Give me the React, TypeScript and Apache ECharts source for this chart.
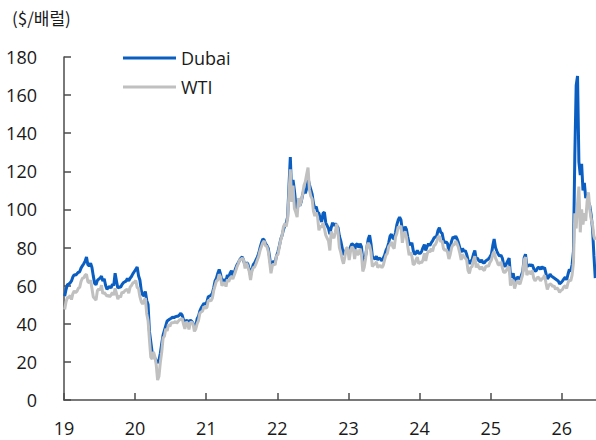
import React, { useEffect, useRef } from "react";
import * as echarts from "echarts";

// Year ticks on the x axis (labelled as two-digit years)
const yearTicks = [2019, 2020, 2021, 2022, 2023, 2024, 2025, 2026];
const yTicks = [0, 20, 40, 60, 80, 100, 120, 140, 160, 180];

// Weekly prices, $/bbl, one array per calendar year
const dubai2019 = [
  54.5, 58.0, 60.5, 60.8, 61.5, 62.5, 64.5, 65.8, 65.5, 66.2, 67.0, 67.3,
  69.2, 70.4, 71.5, 72.8, 75.0, 71.0, 70.3, 71.8, 69.5, 65.0, 61.2, 60.5,
  62.8, 63.4, 64.0, 65.0, 62.4, 63.6, 60.2, 58.1, 59.0, 59.6, 58.8, 60.8,
  60.1, 66.5, 62.5, 58.6, 59.4, 59.1, 60.5, 61.5, 62.0, 62.4, 63.8, 62.5,
  63.9, 64.8, 66.2, 67.3,
];
const wti2019 = [
  47.5, 51.6, 53.8, 53.7, 54.9, 52.7, 55.8, 57.2, 56.4, 57.0, 58.6, 59.1,
  62.2, 63.9, 64.1, 65.5, 66.0, 62.0, 61.5, 62.9, 58.5, 54.0, 53.2, 52.4,
  57.4, 58.3, 57.7, 60.2, 55.8, 56.4, 55.5, 54.5, 55.0, 54.2, 55.1, 56.5,
  55.0, 58.6, 56.0, 52.9, 54.7, 53.9, 56.6, 56.2, 57.2, 57.8, 58.1, 56.0,
  59.2, 60.1, 61.4, 61.7,
];

const dubai2020 = [
  68.5, 69.8, 65.2, 63.0, 57.5, 55.2, 54.6, 57.0, 52.3, 50.1, 36.0, 30.5,
  25.0, 23.5, 22.0, 20.5, 19.5, 21.0, 24.5, 29.5, 34.0, 36.5, 39.0, 41.5,
  42.0, 42.5, 42.9, 43.5, 43.2, 43.7, 43.9, 44.0, 44.6, 45.5, 44.5, 42.0,
  40.5, 41.8, 41.5, 41.2, 41.8, 41.3, 40.2, 38.5, 38.8, 42.6, 43.9, 46.8,
  48.4, 49.6, 50.7, 50.2,
];
const wti2020 = [
  62.7, 59.0, 58.5, 54.2, 51.6, 50.3, 52.0, 53.4, 45.3, 41.6, 31.7, 22.5,
  21.5, 25.3, 22.8, 18.3, 10.5, 12.5, 19.8, 25.0, 32.5, 33.5, 37.4, 36.3,
  39.8, 38.5, 40.6, 40.5, 40.6, 41.3, 40.3, 41.2, 42.0, 42.3, 42.9, 39.8,
  37.3, 41.1, 40.2, 37.0, 40.6, 40.9, 39.9, 36.0, 37.3, 40.1, 41.7, 45.5,
  46.3, 46.6, 49.1, 48.2,
];

const dubai2021 = [
  51.5, 54.2, 54.6, 55.0, 56.0, 59.0, 62.5, 64.0, 66.5, 68.5, 66.0, 62.5,
  63.0, 63.0, 62.5, 65.5, 64.5, 66.5, 67.8, 65.5, 66.8, 69.0, 70.8, 72.0,
  73.5, 74.5, 75.0, 73.0, 70.5, 72.0, 71.5, 68.5, 65.5, 68.5, 71.0, 72.0,
  73.5, 75.0, 77.0, 80.0, 82.5, 84.5, 84.0, 82.0, 81.0, 79.5, 75.0, 69.5,
  71.5, 73.0, 72.0, 75.5,
];
const wti2021 = [
  48.5, 52.2, 52.3, 52.1, 53.5, 57.5, 60.0, 62.5, 63.0, 66.0, 64.5, 60.0,
  60.9, 61.5, 59.5, 63.2, 62.0, 64.0, 64.9, 63.5, 65.5, 67.5, 69.8, 71.5,
  73.5, 73.8, 74.5, 73.2, 69.0, 72.0, 70.0, 67.5, 63.0, 67.5, 69.5, 69.8,
  71.5, 73.5, 75.5, 78.5, 80.5, 82.5, 83.5, 81.0, 80.5, 78.0, 72.5, 66.5,
  70.5, 71.5, 70.8, 75.5,
];

const dubai2022 = [
  78.0, 81.0, 84.5, 86.5, 89.5, 91.5, 93.0, 96.0, 112.0, 127.5, 108.0, 115.5,
  110.0, 103.0, 99.0, 104.5, 102.0, 104.0, 107.5, 110.5, 108.5, 111.0, 116.5, 113.0,
  110.5, 108.0, 103.0, 100.5, 101.5, 98.5, 98.0, 95.0, 93.5, 98.0, 98.5, 93.0,
  91.5, 90.0, 87.0, 90.5, 93.0, 91.5, 92.5, 91.5, 90.5, 86.0, 83.5, 80.0,
  76.0, 78.5, 78.0, 79.0,
];
const wti2022 = [
  76.5, 80.5, 84.0, 86.5, 91.0, 92.5, 91.0, 95.0, 108.0, 121.0, 104.0, 112.5,
  100.5, 98.5, 96.0, 106.0, 102.0, 104.5, 108.0, 112.5, 114.5, 118.5, 122.0, 110.5,
  107.0, 105.5, 99.0, 96.5, 98.5, 96.0, 89.0, 91.5, 90.5, 93.0, 90.0, 86.5,
  85.0, 83.5, 78.5, 88.5, 86.0, 85.0, 88.0, 92.5, 88.0, 80.0, 77.5, 74.0,
  71.5, 75.0, 79.5, 80.0,
];

const dubai2023 = [
  78.0, 80.5, 82.0, 81.5, 78.5, 81.5, 82.0, 80.0, 82.0, 80.5, 73.0, 72.5,
  75.5, 80.0, 84.5, 86.5, 82.0, 75.5, 74.5, 74.0, 75.5, 73.5, 74.5, 74.0,
  73.0, 74.5, 76.0, 78.5, 80.0, 82.5, 86.0, 87.0, 85.0, 84.5, 88.0, 92.0,
  94.5, 96.0, 94.5, 89.0, 88.5, 91.0, 89.5, 85.5, 82.0, 81.5, 82.5, 78.5,
  76.5, 77.0, 78.5, 77.0,
];
const wti2023 = [
  73.5, 78.0, 80.5, 79.5, 74.0, 79.0, 76.5, 76.5, 79.5, 76.5, 67.5, 69.5,
  74.0, 80.5, 82.5, 81.0, 77.5, 70.0, 71.0, 71.5, 72.5, 69.5, 70.5, 70.5,
  69.5, 70.6, 73.5, 76.0, 77.0, 80.5, 81.5, 83.0, 80.5, 79.5, 85.5, 87.5,
  91.0, 90.0, 91.5, 82.5, 86.5, 88.5, 85.5, 80.5, 76.0, 77.5, 75.5, 71.0,
  71.5, 73.5, 75.0, 71.5,
];

const dubai2024 = [
  77.0, 78.0, 80.0, 81.5, 78.5, 80.5, 82.0, 81.0, 82.5, 83.5, 85.0, 85.5,
  86.0, 89.0, 90.5, 88.0, 87.5, 84.0, 82.5, 83.0, 82.0, 78.0, 80.5, 83.5,
  85.5, 85.0, 86.0, 84.5, 82.5, 80.0, 77.5, 79.5, 78.0, 78.5, 76.5, 73.5,
  71.5, 73.0, 73.5, 76.5, 78.5, 74.0, 74.5, 73.0, 72.5, 73.5, 72.0, 72.0,
  73.0, 73.5, 74.0, 75.0,
];
const wti2024 = [
  72.5, 72.0, 73.5, 77.0, 73.0, 76.5, 78.5, 77.5, 79.5, 78.0, 81.0, 81.5,
  83.0, 85.5, 86.0, 83.0, 83.5, 79.5, 78.5, 79.0, 77.5, 74.0, 76.5, 80.0,
  81.5, 81.5, 83.5, 82.0, 80.0, 77.0, 73.5, 76.5, 75.0, 74.5, 73.5, 68.0,
  66.5, 69.5, 70.0, 73.5, 75.5, 69.5, 71.5, 69.5, 68.5, 70.0, 68.5, 68.0,
  70.0, 70.5, 70.0, 72.0,
];

const dubai2025 = [
  76.5, 81.0, 84.5, 80.0, 78.0, 76.5, 75.5, 76.0, 74.5, 71.0, 70.0, 71.5,
  73.0, 74.5, 65.0, 64.5, 66.5, 62.0, 63.0, 64.5, 64.0, 63.5, 65.5, 67.5,
  74.5, 76.5, 70.0, 70.5, 71.0, 70.5, 71.0, 69.0, 67.5, 68.0, 69.5, 69.5,
  68.5, 70.0, 69.0, 69.5, 66.5, 63.5, 64.5, 66.0, 65.0, 64.5, 64.0, 63.5,
  63.0, 62.5, 61.0, 61.5,
];
const wti2025 = [
  73.5, 76.5, 78.0, 74.5, 73.0, 71.0, 71.0, 72.5, 69.5, 67.0, 67.0, 68.0,
  69.5, 70.0, 60.0, 62.5, 63.0, 58.5, 61.0, 62.5, 61.5, 60.8, 63.5, 66.0,
  73.5, 75.0, 65.5, 67.0, 67.5, 66.0, 68.0, 64.0, 62.5, 63.5, 64.5, 64.0,
  62.5, 63.5, 64.0, 65.5, 61.5, 58.0, 60.0, 61.0, 60.5, 59.5, 60.0, 58.0,
  59.0, 58.0, 56.5, 57.5,
];

const dubai2026 = [
  62.5, 63.5, 64.5, 63.0, 66.0, 68.5, 67.5, 71.0, 78.0, 128.0, 165.0, 170.0,
  125.0, 118.0, 124.0, 110.0, 114.0, 106.0, 108.0, 104.0, 102.0, 97.0, 90.0, 76.0,
  64.0,
];
const wti2026 = [
  58.0, 59.5, 60.0, 58.5, 61.5, 63.0, 62.5, 65.5, 72.0, 98.0, 90.0, 103.0,
  112.0, 88.0, 100.0, 92.0, 98.0, 94.0, 104.0, 109.0, 100.0, 95.0, 92.0, 86.0,
  84.0,
];

const dubaiYears: [number, number[]][] = [
  [2019, dubai2019], [2020, dubai2020], [2021, dubai2021], [2022, dubai2022],
  [2023, dubai2023], [2024, dubai2024], [2025, dubai2025], [2026, dubai2026],
];
const wtiYears: [number, number[]][] = [
  [2019, wti2019], [2020, wti2020], [2021, wti2021], [2022, wti2022],
  [2023, wti2023], [2024, wti2024], [2025, wti2025], [2026, wti2026],
];

// Weekly observation i of a year sits at its mid-week point, in fractional years
function toPoints(years: [number, number[]][]): [number, number][] {
  const out: [number, number][] = [];
  for (const [year, values] of years) {
    values.forEach((v, i) => out.push([year + (3.5 + 7 * i) / 365.25, v]));
  }
  return out;
}

const X_MAX = 2026.48;
const LATIN = "'Open Sans', 'Noto Sans', sans-serif";
const KOREAN = "'Noto Sans CJK KR', 'Noto Sans', sans-serif";
const TEXT = "#1a1a1a";
const AXIS = "#4d4d4d";

export default function App() {
  const ref = useRef<HTMLDivElement>(null);

  useEffect(() => {
    if (!ref.current) return;
    const chart = echarts.init(ref.current, undefined, { renderer: "svg" });
    chart.setOption({
      animation: false,
      backgroundColor: "#ffffff",
      title: {
        text: "($/배럴)",
        left: 7,
        top: 4,
        textStyle: { fontFamily: KOREAN, fontSize: 17, fontWeight: "normal", color: TEXT },
      },
      legend: {
        orient: "vertical",
        left: 118,
        top: 44,
        icon: "rect",
        itemWidth: 53,
        itemHeight: 3,
        itemGap: 11,
        textStyle: { fontFamily: LATIN, fontSize: 18, color: TEXT },
        data: ["Dubai", "WTI"],
      },
      grid: { left: 64, right: 0, top: 57, bottom: 40, outerBoundsMode: "none" },
      xAxis: {
        type: "value",
        min: 2019,
        max: X_MAX,
        interval: 1,
        splitLine: { show: false },
        axisLine: { show: true, lineStyle: { color: AXIS, width: 1.5 } },
        axisTick: {
          show: true,
          inside: true,
          length: 7,
          customValues: yearTicks,
          lineStyle: { color: AXIS, width: 1.5 },
        },
        axisLabel: {
          customValues: yearTicks,
          formatter: (v: number) => String(Math.round(v) - 2000),
          fontFamily: LATIN,
          fontSize: 18,
          color: TEXT,
          margin: 19,
        },
      },
      yAxis: {
        type: "value",
        min: 0,
        max: 180,
        interval: 20,
        splitLine: { show: false },
        axisLine: { show: true, lineStyle: { color: AXIS, width: 1.5 } },
        axisTick: {
          show: true,
          inside: true,
          length: 7,
          customValues: yTicks,
          lineStyle: { color: AXIS, width: 1.5 },
        },
        axisLabel: {
          customValues: yTicks,
          fontFamily: LATIN,
          fontSize: 18,
          color: TEXT,
          margin: 27,
        },
      },
      series: [
        {
          name: "Dubai",
          type: "line",
          showSymbol: false,
          data: toPoints(dubaiYears),
          color: "#0A5EC2",
          lineStyle: { color: "#0A5EC2", width: 3 },
        },
        {
          name: "WTI",
          type: "line",
          showSymbol: false,
          data: toPoints(wtiYears),
          color: "#C0C0C0",
          lineStyle: { color: "#C0C0C0", width: 3 },
        },
      ],
    });
    return () => chart.dispose();
  }, []);

  return (
    <div
      ref={ref}
      style={{ position: "fixed", left: 0, top: 0, width: 596, height: 440, background: "#fff" }}
    />
  );
}
